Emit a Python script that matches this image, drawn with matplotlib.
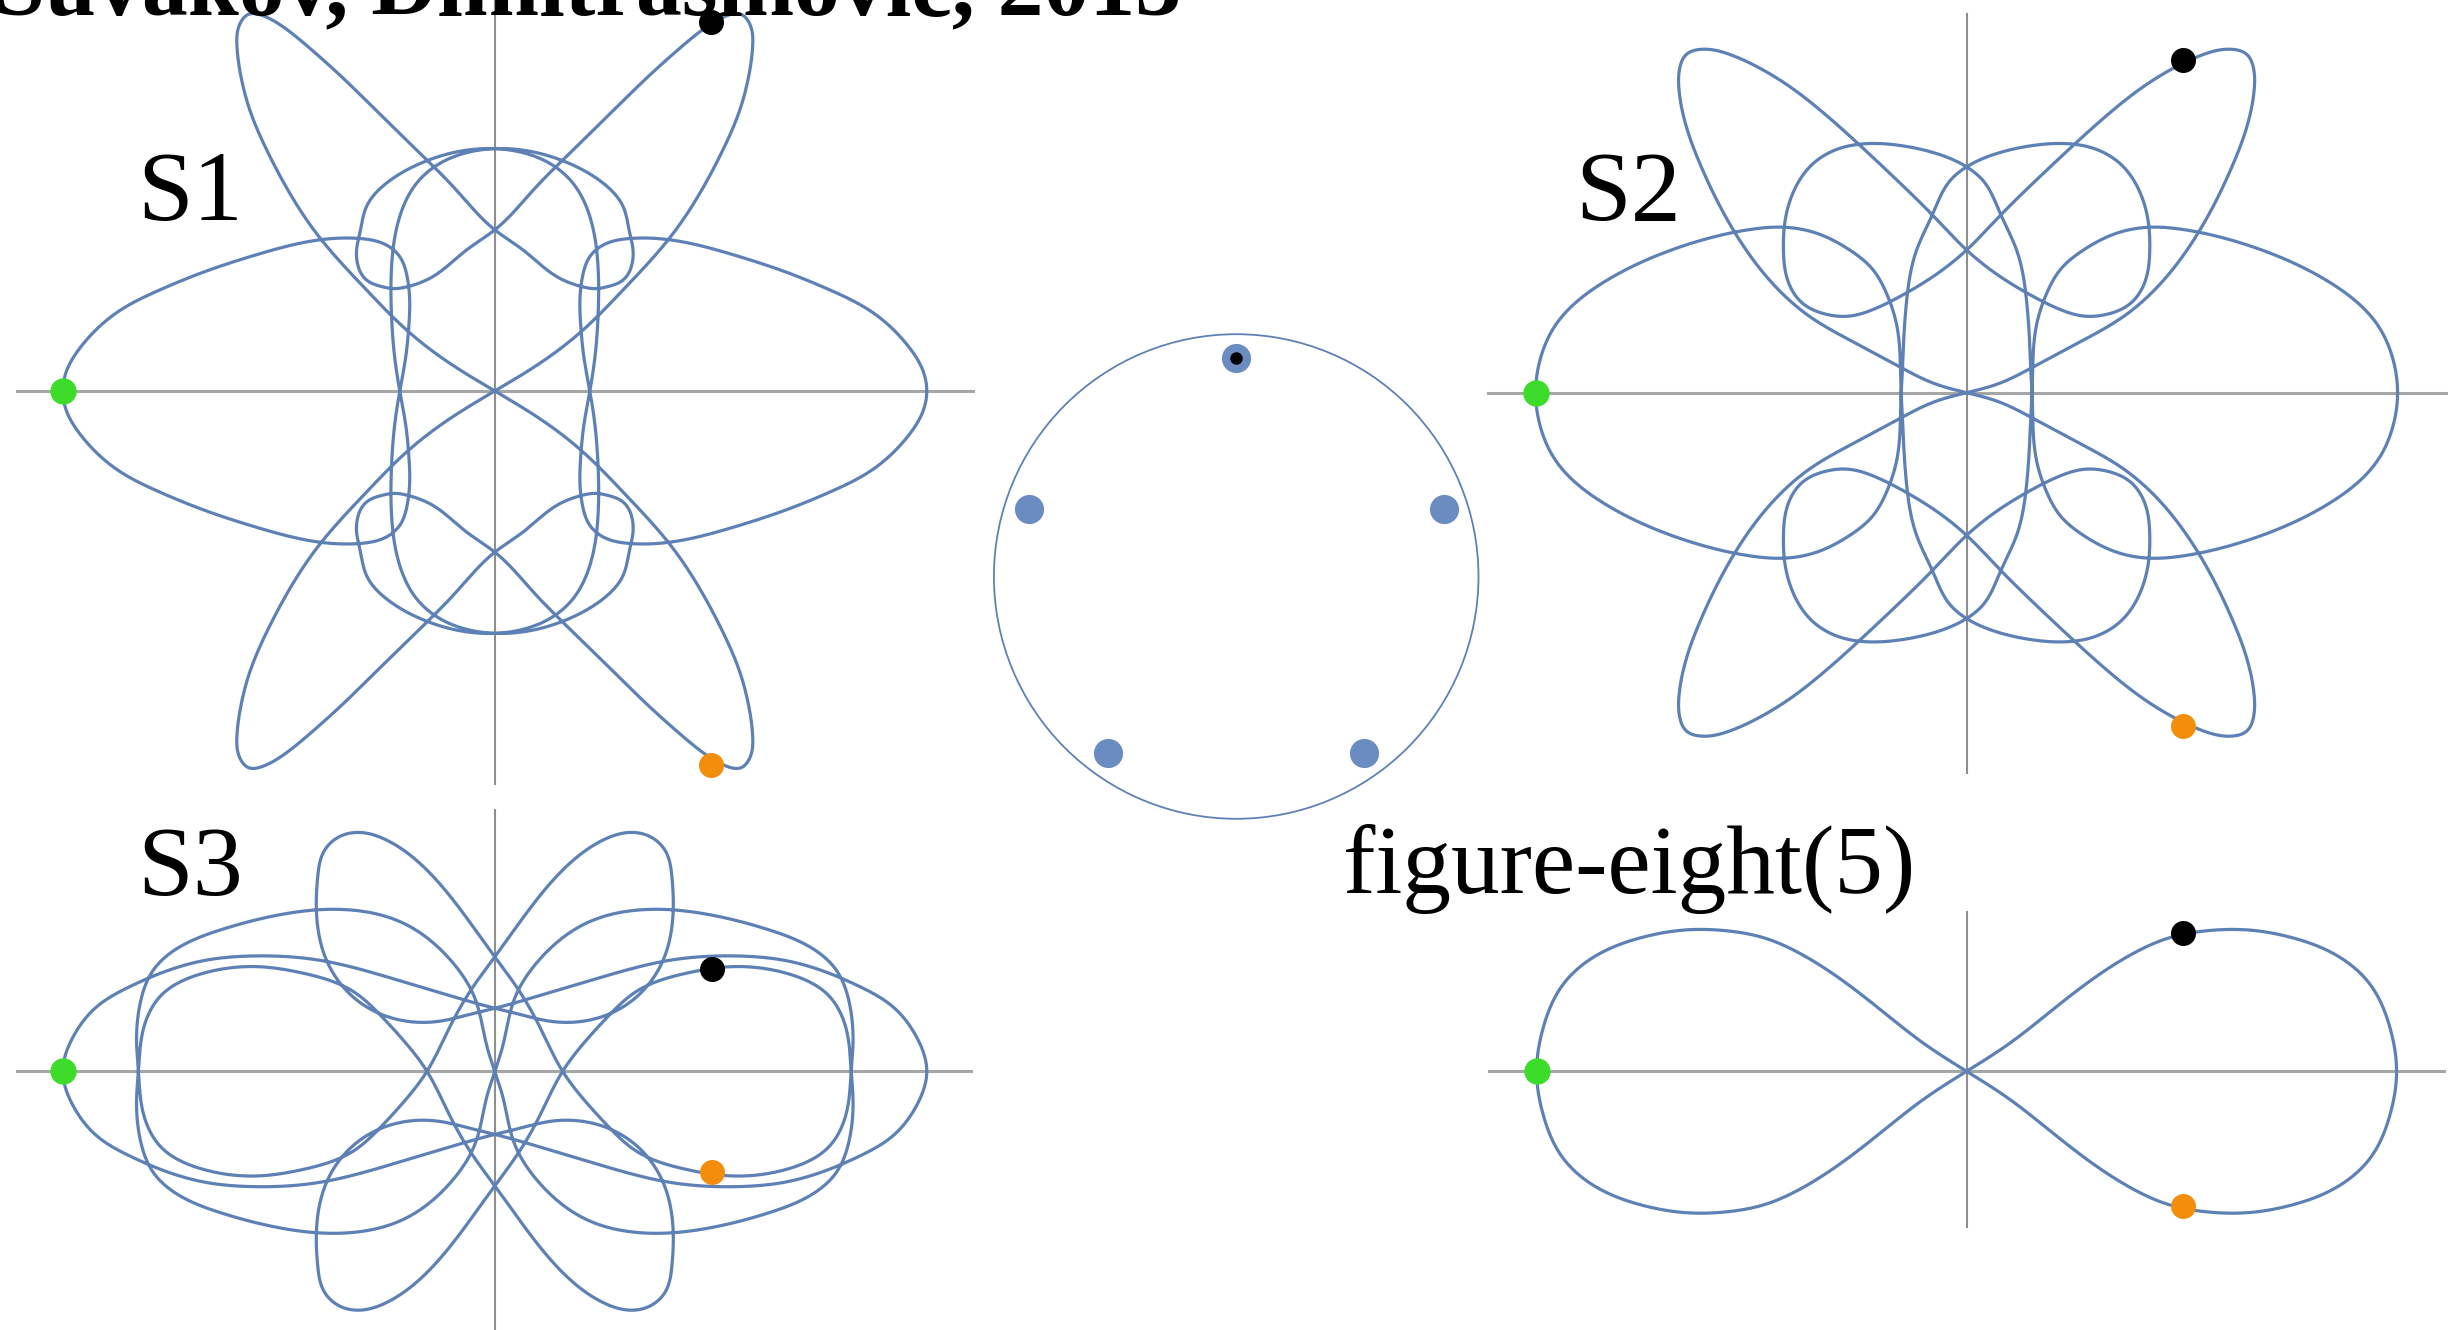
import numpy as np
import matplotlib
matplotlib.use("Agg")
import matplotlib.pyplot as plt
from matplotlib.patches import Circle

W, H = 2463, 1330

# quarter of each orbit: from the green body at (-1, 0) to the origin
s1_x = [-1.0, -0.99, -0.96, -0.87, -0.78, -0.683, -0.55, -0.405, -0.3125, -0.251, -0.22, -0.203, -0.197,
        -0.199, -0.206, -0.22, -0.232, -0.239, -0.239, -0.22, -0.181, -0.127, -0.06, 0.0, 0.104, 0.181,
        0.251, 0.297, 0.3125, 0.32, 0.297, 0.259, 0.235, 0.204, 0.143, 0.066, 0.0, -0.089, -0.181,
        -0.27, -0.352, -0.43, -0.49, -0.535, -0.57, -0.59, -0.597, -0.588, -0.567, -0.528, -0.473,
        -0.413, -0.297, -0.204, -0.104, 0.0]
s1_y = [0.0, 0.05, 0.10, 0.185, 0.232, 0.272, 0.316, 0.35, 0.353, 0.338, 0.311, 0.265, 0.211, 0.15,
        0.08, 0.0, -0.08, -0.172, -0.288, -0.404, -0.481, -0.527, -0.553, -0.561, -0.55, -0.523,
        -0.481, -0.427, -0.365, -0.326, -0.257, -0.241, -0.237, -0.241, -0.265, -0.326, -0.373,
        -0.465, -0.558, -0.645, -0.725, -0.795, -0.843, -0.868, -0.872, -0.85, -0.80, -0.73, -0.65,
        -0.558, -0.455, -0.365, -0.234, -0.141, -0.064, 0.0]

s2_x = [-1.0, -0.99, -0.957, -0.841, -0.696, -0.6, -0.5, -0.425, -0.348, -0.271, -0.217, -0.186,
        -0.163, -0.155, -0.152, -0.149, -0.147, -0.139, -0.116, -0.078, -0.04, 0.0, 0.07, 0.15, 0.23,
        0.3, 0.36, 0.4, 0.421, 0.425, 0.413, 0.38, 0.33, 0.27, 0.217, 0.155, 0.077, 0.0, -0.077,
        -0.155, -0.24, -0.333, -0.41, -0.478, -0.55, -0.61, -0.65, -0.667, -0.667, -0.645, -0.619,
        -0.541, -0.464, -0.363, -0.271, -0.155, -0.077, 0.0]
s2_y = [0.0, 0.075, 0.152, 0.257, 0.327, 0.358, 0.379, 0.384, 0.37, 0.331, 0.285, 0.231, 0.161, 0.099,
        0.0, -0.05, -0.099, -0.215, -0.331, -0.416, -0.49, -0.524, -0.555, -0.573, -0.578, -0.565,
        -0.528, -0.47, -0.4, -0.33, -0.255, -0.207, -0.183, -0.178, -0.193, -0.223, -0.27, -0.331,
        -0.41, -0.487, -0.567, -0.65, -0.71, -0.752, -0.785, -0.797, -0.785, -0.745, -0.70, -0.60,
        -0.532, -0.377, -0.269, -0.176, -0.122, -0.06, -0.022, 0.0]

s3_x = [-1.0, -0.976, -0.922, -0.845, -0.752, -0.675, -0.559, -0.405, -0.251, -0.097, 0.0, 0.049,
        0.135, 0.25, 0.328, 0.39, 0.413, 0.41, 0.395, 0.36, 0.315, 0.25, 0.173, 0.096, 0.0, -0.05,
        -0.104, -0.157, -0.21, -0.26, -0.328, -0.443, -0.5435, -0.675, -0.775, -0.814, -0.825,
        -0.829, -0.821, -0.79, -0.752, -0.636, -0.5, -0.366, -0.212, -0.096, -0.046, -0.018, 0.0]
s3_y = [0.0, 0.08, 0.149, 0.196, 0.235, 0.256, 0.267, 0.257, 0.219, 0.173, 0.146, 0.134, 0.115, 0.127,
        0.172, 0.258, 0.373, 0.45, 0.51, 0.543, 0.553, 0.535, 0.481, 0.396, 0.265, 0.196, 0.103,
        0.0, -0.07, -0.125, -0.185, -0.227, -0.242, -0.227, -0.173, -0.096, 0.0, 0.057, 0.157,
        0.235, 0.273, 0.327, 0.362, 0.375, 0.343, 0.25, 0.169, 0.057, 0.0]

f8_x = [-1.0, -0.985, -0.94, -0.86, -0.76, -0.65, -0.56, -0.47, -0.38, -0.28, -0.19, -0.1, 0.0]
f8_y = [0.0, 0.10, 0.20, 0.27, 0.31, 0.329, 0.327, 0.31, 0.27, 0.205, 0.135, 0.065, 0.0]

# black / orange body positions
s1_black, s1_orange = (0.50, 0.855), (0.50, -0.865)
s2_black, s2_orange = (0.503, 0.773), (0.503, -0.773)
s3_black, s3_orange = (0.502, 0.236), (0.502, -0.233)
f8_black, f8_orange = (0.504, 0.322), (0.504, -0.314)

# five bodies on the ring
ring_angles = [90, 162, 234, 306, 18]
ring_radius = 0.9

labels = ["S1", "S2", "S3", "figure-eight(5)"]
title = "Šuvakov, Dimitrašinović, 2013"

ORBIT = "#5e81b5"
GREEN = "#3ddc2b"
ORANGE = "#f28e0c"


def full_orbit(qx, qy):
    # quarter -> half (point reflection) -> whole (mirror in x axis)
    q = np.array(qx) + 1j * np.array(qy)
    half = np.concatenate([q, -q[::-1][1:]])
    whole = np.concatenate([half, np.conj(half[::-1])[1:-1]])
    return np.column_stack([whole.real, whole.imag])


def closed_spline(pts, per_seg=16):
    # periodic C2 cubic spline, chord-length parameter
    n = len(pts)
    nxt = np.roll(pts, -1, axis=0)
    h = np.linalg.norm(nxt - pts, axis=1)
    hm = np.roll(h, 1)
    idx = np.arange(n)
    A = np.zeros((n, n))
    A[idx, (idx - 1) % n] = hm
    A[idx, idx] = 2 * (hm + h)
    A[idx, (idx + 1) % n] = h
    slope = (nxt - pts) / h[:, None]
    M = np.linalg.solve(A, 6 * (slope - np.roll(slope, 1, axis=0)))
    s = np.linspace(0, 1, per_seg, endpoint=False)
    out = []
    for i in range(n):
        j = (i + 1) % n
        a, b = 1 - s, s
        seg = (a[:, None] * pts[i] + b[:, None] * pts[j]
               + ((a ** 3 - a)[:, None] * M[i] + (b ** 3 - b)[:, None] * M[j]) * h[i] ** 2 / 6)
        out.append(seg)
    out.append(pts[:1])
    return np.vstack(out)


def panel(cx, cy, unit, xlim, ylim, axes_lines=True):
    left = (cx + xlim[0] * unit) / W
    width = (xlim[1] - xlim[0]) * unit / W
    bottom_px = cy - ylim[0] * unit
    height = (ylim[1] - ylim[0]) * unit / H
    ax = fig.add_axes([left, 1 - bottom_px / H, width, height])
    ax.set_xlim(xlim)
    ax.set_ylim(ylim)
    ax.axis("off")
    if axes_lines:
        ax.axhline(0, color="#a6a6a6", lw=2.2, zorder=1)
        ax.axvline(0, color="#8f8f8f", lw=1.5, zorder=1)
    return ax


def draw_orbit(ax, qx, qy, black, orange):
    curve = closed_spline(full_orbit(qx, qy))
    ax.plot(curve[:, 0], curve[:, 1], color=ORBIT, lw=2.3, zorder=2, clip_on=False)
    ax.plot(qx[0], qy[0], "o", color=GREEN, ms=19, mec="none", zorder=3)
    ax.plot(*black, "o", color="black", ms=18, mec="none", zorder=3)
    ax.plot(*orange, "o", color=ORANGE, ms=18, mec="none", zorder=3)


fig = plt.figure(figsize=(W / 100, H / 100), dpi=100)

ax1 = panel(494.8, 391.0, 432, (-1.109, 1.111), (-0.912, 0.95))
draw_orbit(ax1, s1_x, s1_y, s1_black, s1_orange)

ax2 = panel(1966.6, 392.7, 431, (-1.112, 1.116), (-0.885, 0.882))
draw_orbit(ax2, s2_x, s2_y, s2_black, s2_orange)

ax3 = panel(494.8, 1071.3, 432, (-1.109, 1.107), (-0.62, 0.607))
draw_orbit(ax3, s3_x, s3_y, s3_black, s3_orange)

ax4 = panel(1966.6, 1071.3, 430, (-1.114, 1.114), (-0.364, 0.373))
draw_orbit(ax4, f8_x, f8_y, f8_black, f8_orange)

# ring of five
ax5 = panel(1236.2, 576.5, 242.3, (-1.05, 1.05), (-1.05, 1.05), axes_lines=False)
ax5.add_patch(Circle((0, 0), 1.0, fill=False, ec=ORBIT, lw=1.3))
ang = np.deg2rad(ring_angles)
ax5.plot(ring_radius * np.cos(ang), ring_radius * np.sin(ang), "o", color="#6a8cc0", ms=21, mec="none")
ax5.plot(0, ring_radius, "o", color="black", ms=9, mec="none")

serif = ["Liberation Serif", "DejaVu Serif"]
label_pos = [(137, 220), (1575, 220), (137, 895), (1343, 893)]
label_size = [72, 72, 72, 70]
for s, (px, py), fs in zip(labels, label_pos, label_size):
    fig.text(px / W, 1 - py / H, s, fontsize=fs, family=serif, ha="left", va="baseline")

fig.text(-6 / W, 1 - 14 / H, title, fontsize=66, family=serif, weight="bold", ha="left", va="baseline")

fig.savefig("out.png", dpi=100)
